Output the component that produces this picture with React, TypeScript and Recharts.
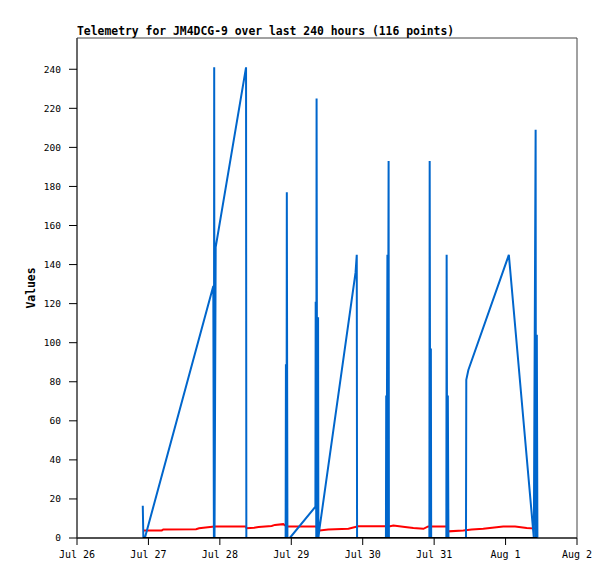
import React from "react";
import { LineChart, Line, XAxis, YAxis, ReferenceArea } from "recharts";

// hours since Jul 26 00:00
const blueHours = [
  22.1, 22.3, 22.8, 45.8, 46.0, 46.1, 46.2, 46.4, 46.6, 56.8, 56.9,
  70.1, 70.2, 70.4, 70.5, 70.7, 71.5, 80.1, 80.2, 80.4, 80.5, 80.7, 81.0, 81.1, 81.5,
  93.6, 94.0, 94.1, 103.8, 103.9, 104.0, 104.3, 104.4, 104.7, 104.8,
  118.4, 118.5, 118.7, 118.9, 119.0, 124.1, 124.2, 124.4, 124.6, 124.8,
  130.7, 130.8, 131.5, 145.1, 153.3, 153.5, 154.1, 154.2, 154.5, 154.7,
];
const blueValues = [
  16.5, 0, 0, 129, 0, 241, 0, 73, 149, 241, 0,
  0, 89, 0, 177, 0, 0, 16, 121, 0, 225, 0, 113, 0, 5,
  136, 145, 0, 0, 73, 0, 145, 0, 193, 0,
  0, 193, 0, 97, 0, 0, 145, 0, 73, 0,
  0, 81, 86, 145, 3.4, 0, 209, 0, 104, 0,
];

const redHours = [
  22.3, 28.5, 29.0, 40.0, 41.0, 46.2, 56.7, 57.0, 59.5, 61.0, 65.4, 66.5, 69.3,
  70.5, 80.3, 81.6, 84.4, 91.2, 94.5, 105.2, 106.3, 110.2, 113.0, 116.4, 118.0,
  124.2, 124.8, 129.8, 132.6, 136.5, 143.2, 147.2, 151.1, 154.2,
];
const redValues = [
  3.9, 3.9, 4.4, 4.5, 5.0, 5.9, 5.9, 5.0, 5.3, 5.6, 6.2, 6.7, 7.1,
  5.9, 5.9, 3.9, 4.3, 4.7, 6.0, 6.0, 6.4, 5.6, 5.1, 4.7, 5.9,
  5.9, 3.4, 3.9, 4.3, 4.7, 5.9, 5.9, 5.1, 4.8,
];

const blackHours = [22.1, 154.7];
const blackValues = [0, 0];

const xTicks = [0, 24, 48, 72, 96, 120, 144, 168];
const xTickLabels = ["Jul 26", "Jul 27", "Jul 28", "Jul 29", "Jul 30", "Jul 31", "Aug 1", "Aug 2"];
const yTicks = [0, 20, 40, 60, 80, 100, 120, 140, 160, 180, 200, 220, 240];

const titleText = "Telemetry for JM4DCG-9 over last 240 hours (116 points)";
const yLabelText = "Values";

const toRows = (hs: number[], vs: number[]) => hs.map((h, i) => ({ h, v: vs[i] }));

const blueData = toRows(blueHours, blueValues);
const redData = toRows(redHours, redValues);
const blackData = toRows(blackHours, blackValues);

const mono = "'DejaVu Sans Mono', 'Liberation Mono', monospace";

export default function App() {
  return (
    <div style={{ position: "relative", width: 600, height: 571 }}>
      <LineChart
        width={600}
        height={571}
        margin={{ top: 30, right: 31, bottom: 0, left: 0 }}
      >
        <XAxis
          dataKey="h"
          type="number"
          domain={[0, 168]}
          ticks={xTicks}
          allowDataOverflow
          height={41}
          tickSize={7}
          tickMargin={6}
          tickFormatter={(v: number) => xTickLabels[xTicks.indexOf(v)] ?? ""}
          axisLine={{ stroke: "#000", strokeWidth: 1 }}
          tickLine={{ stroke: "#000" }}
          tick={{ fill: "#000", fontSize: 10, fontFamily: mono }}
        />
        <YAxis
          dataKey="v"
          type="number"
          domain={[0, 256]}
          ticks={yTicks}
          allowDataOverflow
          width={69}
          tickSize={8}
          tickMargin={8}
          axisLine={{ stroke: "#333" }}
          tickLine={{ stroke: "#000" }}
          tick={{ fill: "#000", fontSize: 9.5, fontFamily: mono }}
        />
        <ReferenceArea
          x1={0}
          x2={168}
          y1={0}
          y2={256}
          fill="none"
          stroke="#444"
          strokeWidth={1}
          ifOverflow="visible"
        />
        <Line
          data={redData}
          dataKey="v"
          type="linear"
          stroke="#ff0000"
          strokeWidth={2}
          dot={false}
          isAnimationActive={false}
        />
        <Line
          data={blueData}
          dataKey="v"
          type="linear"
          stroke="#0066cc"
          strokeWidth={2}
          dot={false}
          isAnimationActive={false}
        />
        <Line
          data={blackData}
          dataKey="v"
          type="linear"
          stroke="#000"
          strokeWidth={2}
          dot={false}
          isAnimationActive={false}
        />
      </LineChart>
      <svg
        width={600}
        height={571}
        style={{ position: "absolute", left: 0, top: 0, pointerEvents: "none" }}
      >
        <text x={69} y={27} fontFamily={mono} fontWeight="bold" fontSize={11.4} fill="#000">
          {titleText}
        </text>
        <text
          x={27}
          y={280}
          transform="rotate(-90 27 280)"
          textAnchor="middle"
          fontFamily={mono}
          fontWeight="bold"
          fontSize={11.4}
          fill="#000"
        >
          {yLabelText}
        </text>
      </svg>
    </div>
  );
}
